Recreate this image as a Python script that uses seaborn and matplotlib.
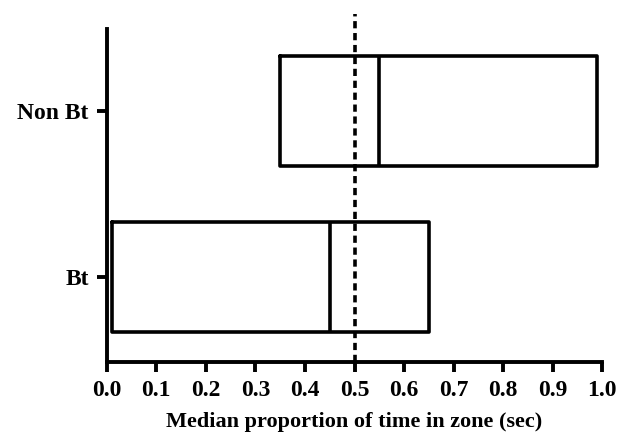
import matplotlib
matplotlib.use("Agg")
import matplotlib.pyplot as plt
import seaborn as sns
import pandas as pd

# Data (box edges: lower quartile, median, upper quartile)
groups = ["Non Bt", "Bt"]
q1 = [0.35, 0.01]
median = [0.55, 0.45]
q3 = [0.99, 0.65]
reference_line = 0.5
x_ticks = [0.0, 0.1, 0.2, 0.3, 0.4, 0.5, 0.6, 0.7, 0.8, 0.9, 1.0]

# Five-point samples whose quartiles equal the box edges (no whiskers)
rows = []
for g, a, m, b in zip(groups, q1, median, q3):
    for v in [a, a, m, b, b]:
        rows.append({"group": g, "value": v})
df = pd.DataFrame(rows)

sns.set_style("ticks", {"axes.edgecolor": "black", "text.color": "black",
                        "xtick.color": "black", "ytick.color": "black",
                        "axes.labelcolor": "black"})
plt.rcParams["font.family"] = ["Liberation Serif", "DejaVu Serif"]
plt.rcParams["font.weight"] = "bold"

fig = plt.figure(figsize=(6.28, 4.36), dpi=100)
ax = fig.add_axes([0.170, 0.170, 0.789, 0.763])

lw = 2.6
sns.boxplot(data=df, x="value", y="group", order=groups, orient="h",
            width=0.66, whis=0, fill=False, color="black", linewidth=lw,
            showcaps=False, showfliers=False,
            boxprops=dict(linewidth=lw, color="black"),
            medianprops=dict(linewidth=lw, color="black"),
            whiskerprops=dict(linewidth=0), ax=ax)

ax.plot([reference_line, reference_line], [1.51, -0.58], linestyle=(0, (2.0, 1.3)),
        color="black", linewidth=2.6, clip_on=False)

ax.set_xlim(0, 1.0)
ax.set_ylim(1.51, -0.49)
ax.set_xticks(x_ticks)
ax.set_xticklabels([f"{t:.1f}" for t in x_ticks], fontsize=17, fontweight="bold")
ax.set_yticks([0, 1])
ax.set_yticklabels(groups, fontsize=17, fontweight="bold")
ax.set_xlabel("Median proportion of time in zone (sec)", fontsize=16,
              fontweight="bold", labelpad=8)
ax.set_ylabel("")

for side in ["top", "right"]:
    ax.spines[side].set_visible(False)
for side in ["left", "bottom"]:
    ax.spines[side].set_linewidth(2.8)
    ax.spines[side].set_color("black")
ax.tick_params(axis="both", width=2.8, length=7, direction="out", colors="black")
ax.tick_params(axis="x", pad=6)
ax.tick_params(axis="y", pad=6)

fig.savefig("out.png", dpi=100)
